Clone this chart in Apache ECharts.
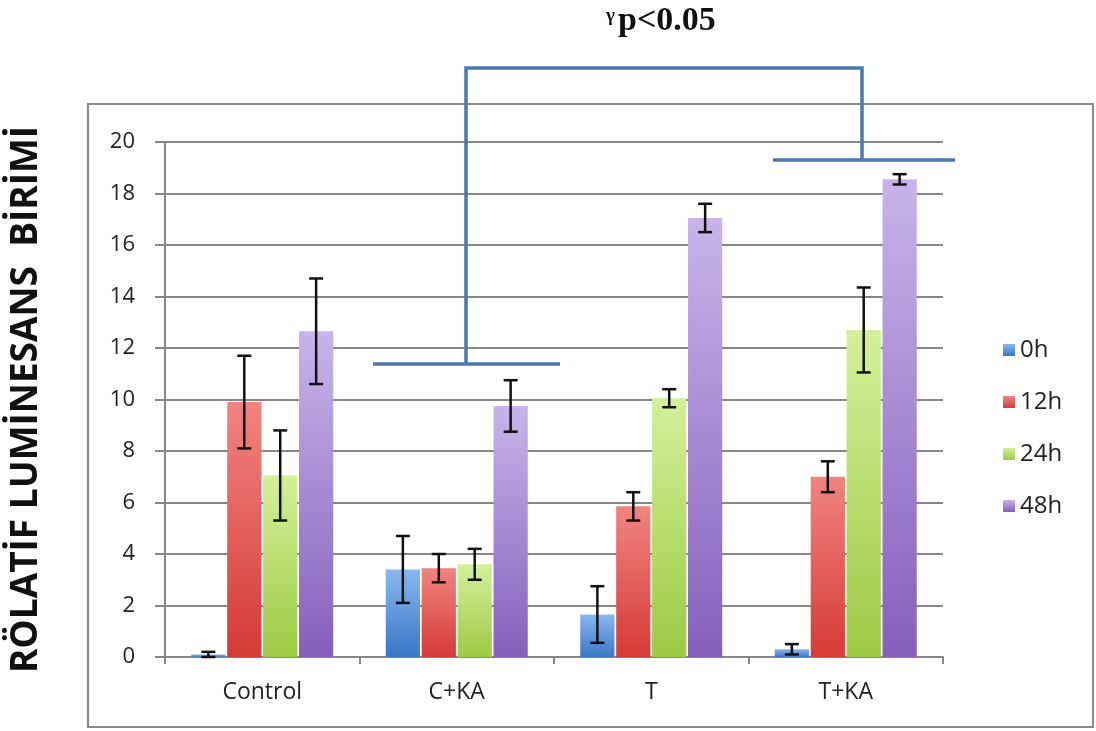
<!DOCTYPE html>
<html>
<head>
<meta charset="utf-8">
<script src="https://cdn.jsdelivr.net/npm/echarts@6/dist/echarts.min.js"></script>
<style>html,body{margin:0;padding:0;background:#fff;}#c{width:1096px;height:731px;}</style>
</head>
<body>
<div id="c"></div>
<script>
const categories = ['Control', 'C+KA', 'T', 'T+KA'];
const seriesNames = ['0h', '12h', '24h', '48h'];
const values0h  = [0.1, 3.4, 1.65, 0.3];
const values12h = [9.9, 3.45, 5.85, 7.0];
const values24h = [7.05, 3.6, 10.05, 12.7];
const values48h = [12.65, 9.75, 17.05, 18.55];
const err0h  = [0.1, 1.3, 1.1, 0.2];
const err12h = [1.8, 0.55, 0.55, 0.6];
const err24h = [1.75, 0.6, 0.35, 1.65];
const err48h = [2.05, 1.0, 0.55, 0.2];
const yTicks = [0, 2, 4, 6, 8, 10, 12, 14, 16, 18, 20];
const titleText = 'p<0.05';
const titleSup = 'γ';
const yName = 'RÖLATİF LUMİNESANS  BİRİMİ';

const allValues = [values0h, values12h, values24h, values48h];
const allErr = [err0h, err12h, err24h, err48h];
const gradients = [
  ['#88b8ee', '#3a76c8'],
  ['#f08480', '#d63a36'],
  ['#d4f09a', '#9cca44'],
  ['#c8b4ea', '#865fbc']
];
const CAT_GAP = 0.27, BAR_GAP = 0.05;

function grad(c) {
  return new echarts.graphic.LinearGradient(0, 0, 0, 1, [
    {offset: 0, color: c[0]}, {offset: 1, color: c[1]}
  ]);
}

const series = [];
seriesNames.forEach((n, i) => {
  series.push({
    name: n, type: 'bar', data: allValues[i],
    barCategoryGap: (CAT_GAP * 100) + '%', barGap: (BAR_GAP * 100) + '%',
    itemStyle: {color: grad(gradients[i])},
    z: 2
  });
});
seriesNames.forEach((n, i) => {
  series.push({
    type: 'custom', name: n + ' err', silent: true, z: 5,
    data: allValues[i].map((v, k) => [k, v - allErr[i][k], v + allErr[i][k]]),
    renderItem: function (params, api) {
      const k = api.value(0);
      const band = api.size([1, 0])[0];
      const usable = band * (1 - CAT_GAP);
      const bw = usable / (4 + 3 * BAR_GAP);
      const cx = api.coord([k, 0])[0] - usable / 2 + i * bw * (1 + BAR_GAP) + bw / 2;
      const lo = api.coord([k, api.value(1)])[1];
      const hi = api.coord([k, api.value(2)])[1];
      const hw = 7;
      const st = {stroke: '#111', lineWidth: 2.5};
      return {type: 'group', children: [
        {type: 'line', shape: {x1: cx, y1: lo, x2: cx, y2: hi}, style: st},
        {type: 'line', shape: {x1: cx - hw, y1: lo, x2: cx + hw, y2: lo}, style: st},
        {type: 'line', shape: {x1: cx - hw, y1: hi, x2: cx + hw, y2: hi}, style: st}
      ]};
    }
  });
});

const bracketColor = '#4a78b2';
const chart = echarts.init(document.getElementById('c'));
chart.setOption({
  animation: false,
  backgroundColor: '#fff',
  grid: {left: 163, right: 153, top: 142, bottom: 74},
  legend: {
    data: seriesNames, orient: 'vertical', left: 998, top: 333,
    itemWidth: 12, itemHeight: 12, itemGap: 28, icon: 'rect',
    textStyle: {fontSize: 24, fontFamily: 'Open Sans', color: '#222'}
  },
  xAxis: {
    type: 'category', data: categories,
    axisLine: {lineStyle: {color: '#868686', width: 2}},
    axisTick: {show: true, length: 7, lineStyle: {color: '#868686', width: 2}},
    axisLabel: {margin: 24, fontSize: 23, fontFamily: 'Open Sans', color: '#222'}
  },
  yAxis: {
    type: 'value', min: yTicks[0], max: yTicks[yTicks.length - 1], interval: yTicks[1] - yTicks[0],
    name: yName, nameLocation: 'middle', nameRotate: 90, nameGap: 120,
    nameTextStyle: {fontSize: 37, fontWeight: 'bold', fontFamily: 'Open Sans', color: '#111'},
    axisLine: {show: true, lineStyle: {color: '#868686', width: 2}},
    axisTick: {show: true, length: 10, lineStyle: {color: '#868686', width: 2}},
    splitLine: {lineStyle: {color: '#868686', width: 2}},
    axisLabel: {margin: 30, fontSize: 22, fontFamily: 'Open Sans', color: '#222'}
  },
  graphic: [
    {type: 'rect', shape: {x: 88, y: 104, width: 1005, height: 623}, style: {fill: 'none', stroke: '#8a8a8a', lineWidth: 2}, z: -1},
    {type: 'text', x: 606, y: 16, style: {text: titleSup, fontSize: 19, fontWeight: 'bold', fontFamily: 'Liberation Serif', fill: '#111', verticalAlign: 'middle'}},
    {type: 'text', x: 618, y: 21, style: {text: titleText, fontSize: 34, fontWeight: 'bold', fontFamily: 'Liberation Serif', fill: '#111', verticalAlign: 'middle'}},
    {type: 'line', shape: {x1: 373, y1: 364, x2: 560, y2: 364}, style: {stroke: bracketColor, lineWidth: 3.5}, z: 10},
    {type: 'polyline', shape: {points: [[466, 364], [466, 68], [862, 68], [862, 160]]}, style: {stroke: bracketColor, lineWidth: 3.5, fill: 'none'}, z: 10},
    {type: 'line', shape: {x1: 773, y1: 160, x2: 955, y2: 160}, style: {stroke: bracketColor, lineWidth: 3.5}, z: 10}
  ],
  series: series
});
</script>
</body>
</html>
